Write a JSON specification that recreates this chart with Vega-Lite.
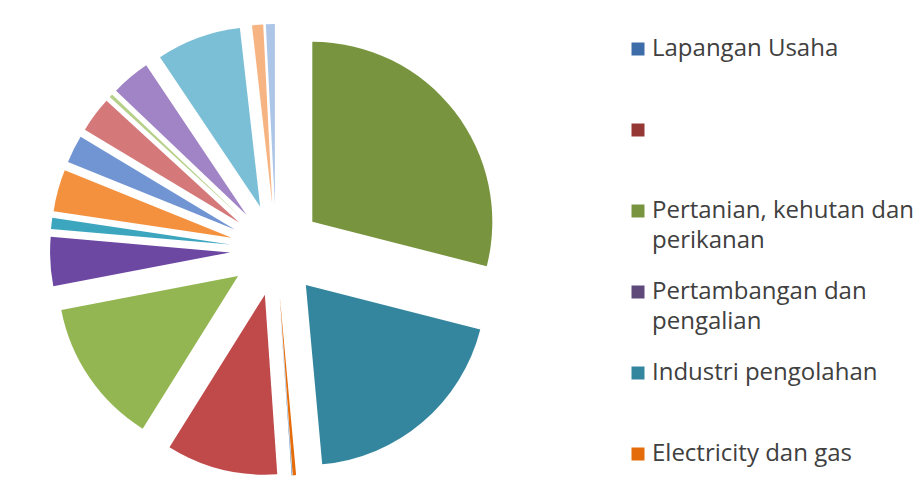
{
  "$schema": "https://vega.github.io/schema/vega-lite/v6.json",
  "width": 552,
  "height": 470,
  "autosize": {"type": "none"},
  "padding": {"top": 15, "left": 0, "right": 369, "bottom": 0},
  "background": "white",
  "view": {"stroke": null},
  "data": {
    "values": [
      {"no": 1, "sektor": "Lapangan Usaha", "nilai": 0},
      {"no": 2, "sektor": " ", "nilai": 0},
      {"no": 3, "sektor": "Pertanian, kehutan dan perikanan", "nilai": 29.0},
      {"no": 4, "sektor": "Pertambangan dan pengalian", "nilai": 0},
      {"no": 5, "sektor": "Industri pengolahan", "nilai": 19.6},
      {"no": 6, "sektor": "Electricity dan gas", "nilai": 0.3},
      {"no": 7, "sektor": "Pengadaan air", "nilai": 0.05},
      {"no": 8, "sektor": "Konstruksi", "nilai": 10.0},
      {"no": 9, "sektor": "Perdagangan besar dan eceran", "nilai": 13.1},
      {"no": 10, "sektor": "Transportasi dan pergudangan", "nilai": 4.4},
      {"no": 11, "sektor": "Penyediaan akomodasi dan makan minum", "nilai": 1.0},
      {"no": 12, "sektor": "Informasi dan komunikasi", "nilai": 3.75},
      {"no": 13, "sektor": "Jasa keuangan", "nilai": 2.5},
      {"no": 14, "sektor": "Real estate", "nilai": 3.2},
      {"no": 15, "sektor": "Jasa perusahaan", "nilai": 0.3},
      {"no": 16, "sektor": "Administrasi pemerintahan", "nilai": 3.5},
      {"no": 17, "sektor": "Jasa pendidikan", "nilai": 7.6},
      {"no": 18, "sektor": "Jasa kesehatan", "nilai": 1.0},
      {"no": 19, "sektor": "Jasa lainnya", "nilai": 0.8}
    ]
  },
  "mark": {
    "type": "arc",
    "outerRadius": 180,
    "x": {"expr": "width / 2 + 46 * sin(scale('theta', (datum.nilai_start + datum.nilai_end) / 2))"},
    "y": {"expr": "height / 2 - 46 * cos(scale('theta', (datum.nilai_start + datum.nilai_end) / 2))"}
  },
  "encoding": {
    "theta": {"field": "nilai", "type": "quantitative", "stack": true},
    "order": {"field": "no", "type": "quantitative"},
    "color": {
      "field": "sektor",
      "type": "nominal",
      "scale": {
        "domain": [
          "Lapangan Usaha", " ", "Pertanian, kehutan dan perikanan", "Pertambangan dan pengalian",
          "Industri pengolahan", "Electricity dan gas", "Pengadaan air", "Konstruksi",
          "Perdagangan besar dan eceran", "Transportasi dan pergudangan",
          "Penyediaan akomodasi dan makan minum", "Informasi dan komunikasi", "Jasa keuangan",
          "Real estate", "Jasa perusahaan", "Administrasi pemerintahan", "Jasa pendidikan",
          "Jasa kesehatan", "Jasa lainnya"
        ],
        "range": [
          "#3C6DA8", "#953735", "#78943E", "#5F497A", "#34869E", "#E46C0A",
          "#4F81BD", "#C0494A", "#93B652", "#6C48A2", "#3DA6BF", "#F4913E",
          "#7194D2", "#D4787A", "#B6D08A", "#A184C6", "#7BBFD6", "#F7B483", "#ADC6E8"
        ]
      },
      "legend": {
        "orient": "none",
        "legendX": 626,
        "legendY": 22,
        "title": null,
        "padding": 0,
        "values": [
          "Lapangan Usaha", " ", "Pertanian, kehutan dan perikanan",
          "Pertambangan dan pengalian", "Industri pengolahan", "Electricity dan gas"
        ],
        "symbolType": "square",
        "symbolSize": 169,
        "symbolStrokeWidth": 0,
        "symbolOpacity": 1,
        "labelFont": "Open Sans",
        "labelFontSize": 24,
        "labelColor": "#404040",
        "labelOffset": 2,
        "labelLimit": 0,
        "rowPadding": 27,
        "labelExpr": "datum.label == 'Pertanian, kehutan dan perikanan' ? ['Pertanian, kehutan dan', 'perikanan'] : datum.label == 'Pertambangan dan pengalian' ? ['Pertambangan dan', 'pengalian'] : [datum.label, ' ']",
        "encode": {"labels": {"update": {"lineHeight": {"value": 30}}}}
      }
    }
  }
}
